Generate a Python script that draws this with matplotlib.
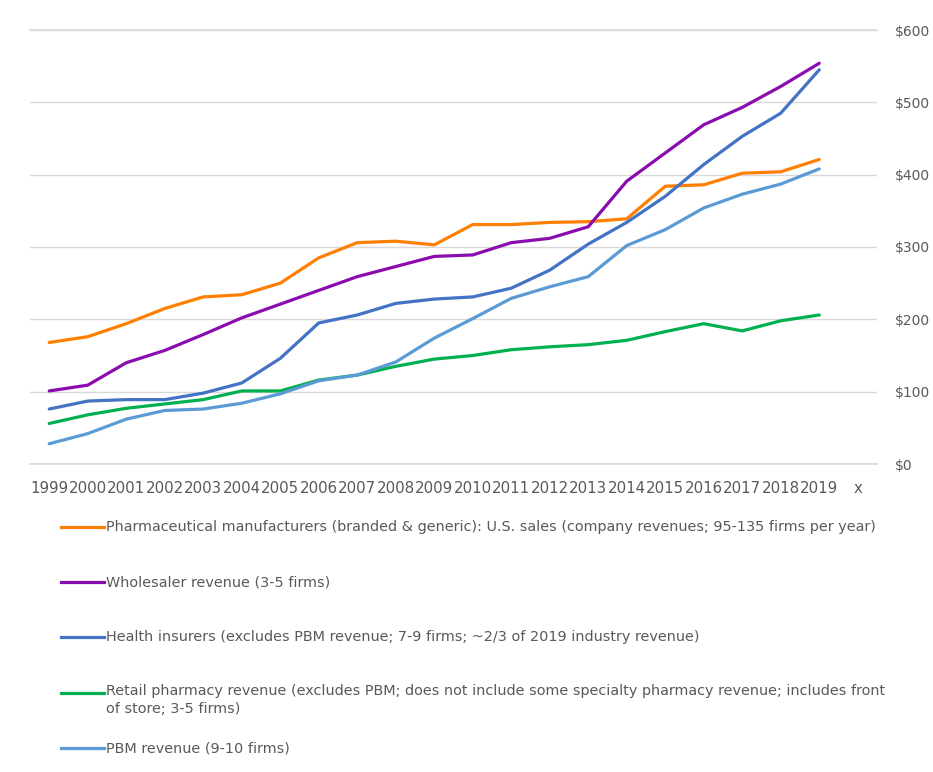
import matplotlib
matplotlib.use("Agg")
import matplotlib.pyplot as plt
from matplotlib.lines import Line2D

plt.rcParams['font.family'] = ['DejaVu Sans']

categories = [str(y) for y in range(1999, 2020)] + ["x"]

pharma = [168, 176, 194, 215, 231, 234, 250, 285, 306, 308, 303, 331,
          331, 334, 335, 339, 384, 386, 402, 404, 421]
wholesaler = [101, 109, 140, 157, 179, 202, 221, 240, 259, 273, 287, 289,
              306, 312, 328, 391, 430, 469, 493, 522, 554]
insurers = [76, 87, 89, 89, 98, 112, 146, 195, 206, 222, 228, 231,
            243, 268, 304, 334, 370, 414, 453, 485, 545]
retail = [56, 68, 77, 83, 89, 101, 101, 116, 123, 135, 145, 150,
          158, 162, 165, 171, 183, 194, 184, 198, 206]
pbm = [28, 42, 62, 74, 76, 84, 97, 115, 123, 141, 174, 201,
       229, 245, 259, 302, 324, 354, 373, 387, 408]

labels = [
    "Pharmaceutical manufacturers (branded & generic): U.S. sales (company revenues; 95-135 firms per year)",
    "Wholesaler revenue (3-5 firms)",
    "Health insurers (excludes PBM revenue; 7-9 firms; ~2/3 of 2019 industry revenue)",
    "Retail pharmacy revenue (excludes PBM; does not include some specialty pharmacy revenue; includes front\nof store; 3-5 firms)",
    "PBM revenue (9-10 firms)",
]
series = [pharma, wholesaler, insurers, retail, pbm]
colors = ["#FF7F00", "#8A0CAE", "#4472C4", "#00B050", "#5B9BD5"]

W, H = 933, 772
fig = plt.figure(figsize=(W / 100, H / 100), dpi=100)
ax = fig.add_axes([30 / W, 1 - 464 / H, (877 - 30) / W, (464 - 30) / H])

xs = list(range(len(categories)))
for vals, c, lab in zip(series, colors, labels):
    ax.plot(xs[:len(vals)], vals, color=c, lw=2.3, label=lab, solid_capstyle='round')

ax.set_xlim(-0.5, len(categories) - 0.5)
ax.set_ylim(0, 600)
ax.set_yticks(range(0, 601, 100))
ax.set_yticklabels([f"${v}" for v in range(0, 601, 100)])
ax.yaxis.tick_right()
ax.set_xticks(xs)
ax.set_xticklabels(categories)
ax.tick_params(axis='both', length=0, colors='#595959')
ax.tick_params(axis='y', pad=13, labelsize=10)
ax.tick_params(axis='x', pad=12, labelsize=10.8)
ax.grid(axis='y', color='#d9d9d9', lw=1)
ax.axhline(0, color='#d9d9d9', lw=1.2, clip_on=False, zorder=0)
ax.axhline(600, color='#d9d9d9', lw=1.2, clip_on=False, zorder=0)
ax.set_axisbelow(True)
for s in ax.spines.values():
    s.set_visible(False)

# legend drawn manually below the plot
rows_y = [527, 582, 637, 693, 748]
for yy, c, lab in zip(rows_y, colors, labels):
    fy = 1 - yy / H
    fig.add_artist(Line2D([61 / W, 104 / W], [fy, fy], color=c, lw=2.3,
                          transform=fig.transFigure))
    if '\n' in lab:
        fig.text(106 / W, fy + 9 / H, lab, color='#595959', fontsize=10.4,
                 va='top', linespacing=1.4)
    else:
        fig.text(106 / W, fy, lab, color='#595959', fontsize=10.4, va='center')

fig.savefig("out.png", dpi=100, facecolor='white')
